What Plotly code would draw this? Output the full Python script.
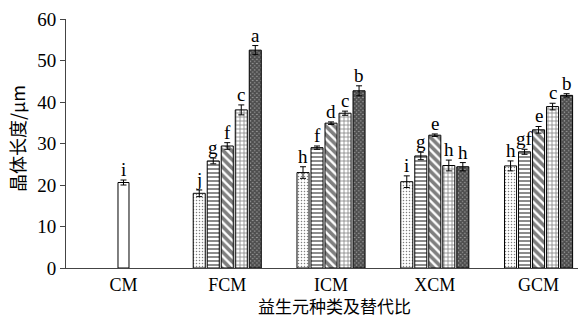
import plotly.graph_objects as go

categories = ["CM", "FCM", "ICM", "XCM", "GCM"]
treat_groups = ["FCM", "ICM", "XCM", "GCM"]

cm_value = [20.6]
cm_error = [0.6]
cm_letter = ["i"]

# five substitution-ratio series, values for FCM, ICM, XCM, GCM
series_values = [
    [18.0, 23.0, 20.8, 24.6],
    [25.8, 29.0, 27.0, 28.0],
    [29.4, 34.9, 32.0, 33.3],
    [38.1, 37.3, 24.7, 38.9],
    [52.5, 42.7, 24.4, 41.6],
]
series_errors = [
    [0.8, 1.4, 1.4, 1.2],
    [0.7, 0.4, 0.9, 0.6],
    [0.8, 0.3, 0.3, 0.8],
    [1.2, 0.5, 1.3, 0.8],
    [1.1, 1.2, 1.0, 0.4],
]
series_letters = [
    ["j", "h", "i", "h"],
    ["g", "f", "g", "gf"],
    ["f", "d", "e", "e"],
    ["c", "c", "h", "c"],
    ["a", "b", "h", "b"],
]

patterns = [
    dict(shape=".", size=3, solidity=0.2, bgcolor="white"),
    dict(shape="-", size=4, solidity=0.45, bgcolor="white"),
    dict(shape="\\", size=6, solidity=0.6, bgcolor="white"),
    dict(shape="+", size=4, solidity=0.35, bgcolor="white"),
    dict(shape="x", size=3, solidity=0.8, bgcolor="#9a9a9a"),
]

xpos = {c: i for i, c in enumerate(categories)}
pitch = 0.135
bw = 0.116

serif = "Liberation Serif, Times New Roman, serif"
cjk = "Noto Sans CJK SC"

fig = go.Figure()
fig.add_trace(go.Bar(
    x=[xpos["CM"]], y=cm_value, width=0.106, offset=-0.053,
    marker=dict(color="white", line=dict(color="black", width=1)),
    error_y=dict(type="data", array=cm_error, color="black", thickness=1, width=3),
    showlegend=False, hoverinfo="skip",
))
annotations = []
annotations.append(dict(x=xpos["CM"], y=cm_value[0] + cm_error[0], text=cm_letter[0],
                        showarrow=False, yanchor="bottom", yshift=-2,
                        font=dict(family=serif, size=19, color="black")))

gx = [xpos[g] for g in treat_groups]
for i, (vals, errs, lets, pat) in enumerate(zip(series_values, series_errors, series_letters, patterns)):
    off = (i - 2) * pitch - bw / 2
    fig.add_trace(go.Bar(
        x=gx, y=vals, width=bw, offset=off,
        marker=dict(color="white", line=dict(color="black", width=1),
                    pattern=dict(fgcolor="black", fillmode="overlay", **pat)),
        error_y=dict(type="data", array=errs, color="black", thickness=1, width=3),
        showlegend=False, hoverinfo="skip",
    ))
    for x, v, e, t in zip(gx, vals, errs, lets):
        annotations.append(dict(x=x + off + bw / 2, y=v + e, text=t, showarrow=False,
                                yanchor="bottom", yshift=-2,
                                font=dict(family=serif, size=19, color="black")))

# axis titles
annotations.append(dict(xref="paper", yref="paper", x=(334 - 66) / 512, y=-(305 - 268) / 249,
                        text="益生元种类及替代比", showarrow=False, xanchor="center", yanchor="middle",
                        font=dict(family=cjk, size=17, color="black")))
annotations.append(dict(xref="paper", yref="paper", x=-(66 - 17) / 512, y=(268 - 139) / 249,
                        text="晶体长度/μm", showarrow=False, xanchor="center", yanchor="middle",
                        textangle=-90, font=dict(family=cjk, size=18, color="black")))

fig.update_layout(
    width=580, height=324,
    margin=dict(l=66, r=2, t=19, b=56, autoexpand=False),
    paper_bgcolor="white", plot_bgcolor="white",
    barmode="overlay",
    annotations=annotations,
    xaxis=dict(
        range=[-0.554, 4.38], automargin=False,
        tickvals=list(range(len(categories))), ticktext=categories,
        showline=True, linecolor="#444", linewidth=1, ticks="",
        showgrid=False, zeroline=False,
        tickfont=dict(family=serif, size=18, color="black"),
    ),
    yaxis=dict(
        range=[0, 60], tickvals=[0, 10, 20, 30, 40, 50, 60], automargin=False,
        showline=True, linecolor="#444", linewidth=1, ticks="outside", ticklen=5,
        tickcolor="#444", showgrid=False, zeroline=False,
        tickfont=dict(family=serif, size=19, color="black"),
    ),
)
fig.write_html("out.html", config={"displayModeBar": False},
               post_script="document.body.style.margin='0';document.body.style.overflow='hidden';")
